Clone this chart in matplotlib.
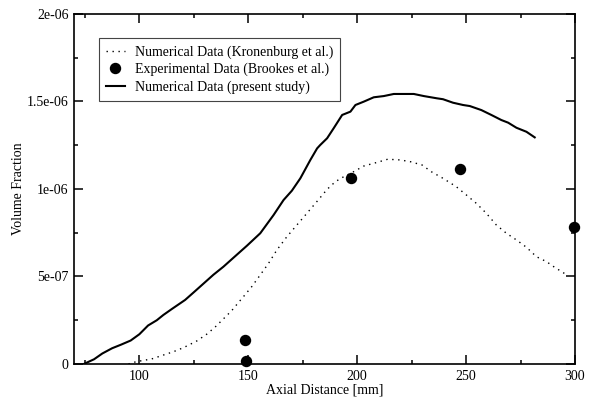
import matplotlib
matplotlib.use('Agg')
import matplotlib.pyplot as plt
from matplotlib.ticker import FixedLocator, MultipleLocator

# present study, axial distance [mm] vs volume fraction [1e-6]
STUDY_X = [74.5, 79.2, 83, 87.5, 91.5, 96, 100, 104, 108, 111, 115, 121,
           125, 129.5, 134, 138.6, 143, 149.4, 155.5, 161.6, 166.2, 170,
           173.9, 178.5, 181.6, 183, 186.2, 189.2, 193.1, 196.9, 199.2,
           203, 207.6, 212.2, 216.8, 226, 230.6, 236.7, 239.4, 244, 248.6,
           251.7, 257, 261.6, 266.2, 269.3, 273.1, 277.7, 281.5]
STUDY_Y = [0.0, 0.027, 0.06, 0.09, 0.11, 0.134, 0.17, 0.22, 0.25, 0.28,
           0.315, 0.366, 0.41, 0.46, 0.51, 0.556, 0.605, 0.676, 0.747,
           0.851, 0.937, 0.99, 1.061, 1.166, 1.232, 1.251, 1.29, 1.347,
           1.423, 1.442, 1.48, 1.499, 1.524, 1.531, 1.543, 1.543, 1.531,
           1.518, 1.513, 1.493, 1.48, 1.474, 1.451, 1.423, 1.394, 1.379,
           1.35, 1.327, 1.295]

# Kronenburg et al.
KRON_X = [95, 97.6, 100.3, 105.7, 111, 115.6, 120.2, 126.3, 130.9, 134.7,
          138.6, 142.4, 145.4, 147.8, 151.6, 155.5, 159.3, 163.1, 167.7,
          172.3, 176.9, 182.1, 186.2, 190, 193.8, 198.4, 203, 209.1, 214,
          219.8, 224.4, 229.8, 234, 239.4, 245.5, 250.1, 254.7, 259.3,
          263.9, 268.5, 273.1, 277.7, 282.3, 286.9, 290.7, 294.6, 296.5]
KRON_Y = [0.0, 0.01, 0.017, 0.029, 0.051, 0.07, 0.093, 0.131, 0.17, 0.21,
          0.258, 0.305, 0.35, 0.385, 0.442, 0.509, 0.575, 0.651, 0.727,
          0.794, 0.861, 0.937, 0.998, 1.042, 1.07, 1.099, 1.131, 1.152,
          1.17, 1.166, 1.156, 1.137, 1.099, 1.061, 1.013, 0.966, 0.918,
          0.861, 0.794, 0.747, 0.709, 0.667, 0.613, 0.585, 0.552, 0.522,
          0.505]

# Brookes et al. measurements
EXP_X = [148.3, 148.8, 197.1, 247.2, 299.6]
EXP_Y = [0.137, 0.019, 1.061, 1.112, 0.785]

Y_TICKS = [0, 5e-7, 1e-6, 1.5e-6, 2e-6]
Y_TICK_LABELS = ['0', '5e-07', '1e-06', '1.5e-06', '2e-06']
X_TICKS = [100, 150, 200, 250, 300]

SCALE = 1e-6


def main():
    plt.rcParams['font.family'] = ['Liberation Serif', 'DejaVu Serif']
    plt.rcParams['font.size'] = 10

    fig = plt.figure(figsize=(5.95, 4.01), dpi=100)
    ax = fig.add_axes([0.1244, 0.0923, 0.842, 0.8728])

    ax.plot(KRON_X, [v * SCALE for v in KRON_Y], color='black', lw=1.0,
            linestyle=(0, (1, 3.3)), label='Numerical Data (Kronenburg et al.)')
    ax.plot(EXP_X, [v * SCALE for v in EXP_Y], 'o', color='black',
            markersize=7.2, clip_on=False, zorder=5,
            label='Experimental Data (Brookes et al.)')
    ax.plot(STUDY_X, [v * SCALE for v in STUDY_Y], color='black', lw=1.5,
            label='Numerical Data (present study)')

    ax.set_xlim(70, 300)
    ax.set_ylim(0, 2e-6)
    ax.xaxis.set_major_locator(FixedLocator(X_TICKS))
    ax.xaxis.set_minor_locator(MultipleLocator(25))
    ax.set_yticks(Y_TICKS)
    ax.set_yticklabels(Y_TICK_LABELS)
    ax.yaxis.set_minor_locator(MultipleLocator(2.5e-7))

    ax.tick_params(which='both', direction='in', top=True, right=True,
                   width=1.1, labelsize=10, pad=4)
    ax.tick_params(which='major', length=6.5)
    ax.tick_params(which='minor', length=3.2)
    for spine in ax.spines.values():
        spine.set_linewidth(1.2)

    ax.set_xlabel('Axial Distance [mm]', fontsize=10, labelpad=1)
    ax.set_ylabel('Volume Fraction', fontsize=10, labelpad=1.5)

    leg = ax.legend(loc='upper left', bbox_to_anchor=(0.049, 0.931),
                    borderaxespad=0, fancybox=False, framealpha=1,
                    handlelength=1.4, handletextpad=0.7, labelspacing=0.3,
                    borderpad=0.5, fontsize=10)
    leg.get_frame().set_edgecolor('#444444')
    leg.get_frame().set_linewidth(0.8)

    fig.savefig('out.png', dpi=100)


if __name__ == '__main__':
    main()
